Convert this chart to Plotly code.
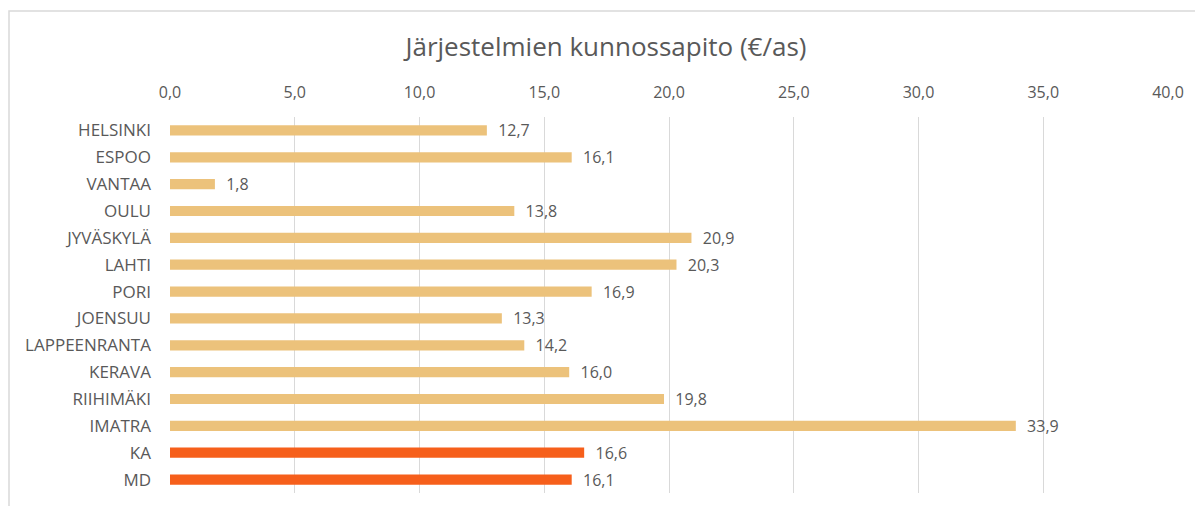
import plotly.graph_objects as go

# Järjestelmien kunnossapito, €/asukas
cities = ["HELSINKI", "ESPOO", "VANTAA", "OULU", "JYVÄSKYLÄ", "LAHTI", "PORI",
          "JOENSUU", "LAPPEENRANTA", "KERAVA", "RIIHIMÄKI", "IMATRA", "KA", "MD"]
values = [12.7, 16.1, 1.8, 13.8, 20.9, 20.3, 16.9, 13.3, 14.2, 16.0, 19.8, 33.9,
          16.6, 16.1]
x_ticks = [0, 5, 10, 15, 20, 25, 30, 35, 40]

LIGHT = "#ECC27B"
DARK = "#F65F1B"
GREY = "#595959"
colors = [DARK if c in ("KA", "MD") else LIGHT for c in cities]

# the page body has an 8px margin, so positions below are shifted by -8
W, H = 1203, 506
L, R, T, B = 162, 43, 109, 21
pw, ph = W - L - R, H - T - B

fig = go.Figure(go.Bar(
    x=values, y=cities, orientation="h",
    marker=dict(color=colors, line_width=0),
    width=0.38,
    texttemplate="\u00a0\u00a0%{x:.1f}", textposition="outside",
    constraintext="none",
    textfont=dict(size=16, color=GREY),
    cliponaxis=False,
))

fig.update_layout(
    width=W, height=H,
    margin=dict(l=L, r=R, t=T, b=B),
    paper_bgcolor="white", plot_bgcolor="white",
    separators=", ",
    font=dict(family="Open Sans, Noto Sans, sans-serif", size=16, color=GREY),
    title=dict(text="Järjestelmien kunnossapito (€/as)", x=598 / W, xanchor="center",
               y=1 - 39 / H, yanchor="middle",
               font=dict(size=26, color=GREY)),
    showlegend=False,
)
fig.update_xaxes(side="top", range=[0, 40], tickvals=x_ticks, tickformat=".1f",
                 showgrid=True, gridcolor="#D9D9D9", gridwidth=1.3,
                 zeroline=False, showline=False, ticks="",
                 ticklabelstandoff=15, tickfont=dict(size=16, color=GREY))
fig.update_yaxes(autorange="reversed", showgrid=False, zeroline=False,
                 showline=False, ticks="", ticklabelstandoff=18,
                 tickfont=dict(size=17, color=GREY))

# light frame around the chart, like the spreadsheet chart border
fig.add_shape(type="rect", xref="paper", yref="paper",
              x0=(1 - L) / pw, x1=(W + 5 - L) / pw,
              y0=(H - B - (H + 5)) / ph, y1=(H - B - 3) / ph,
              line=dict(color="#D9D9D9", width=1.5), fillcolor="rgba(0,0,0,0)",
              layer="below")

fig.write_html("out.html")
